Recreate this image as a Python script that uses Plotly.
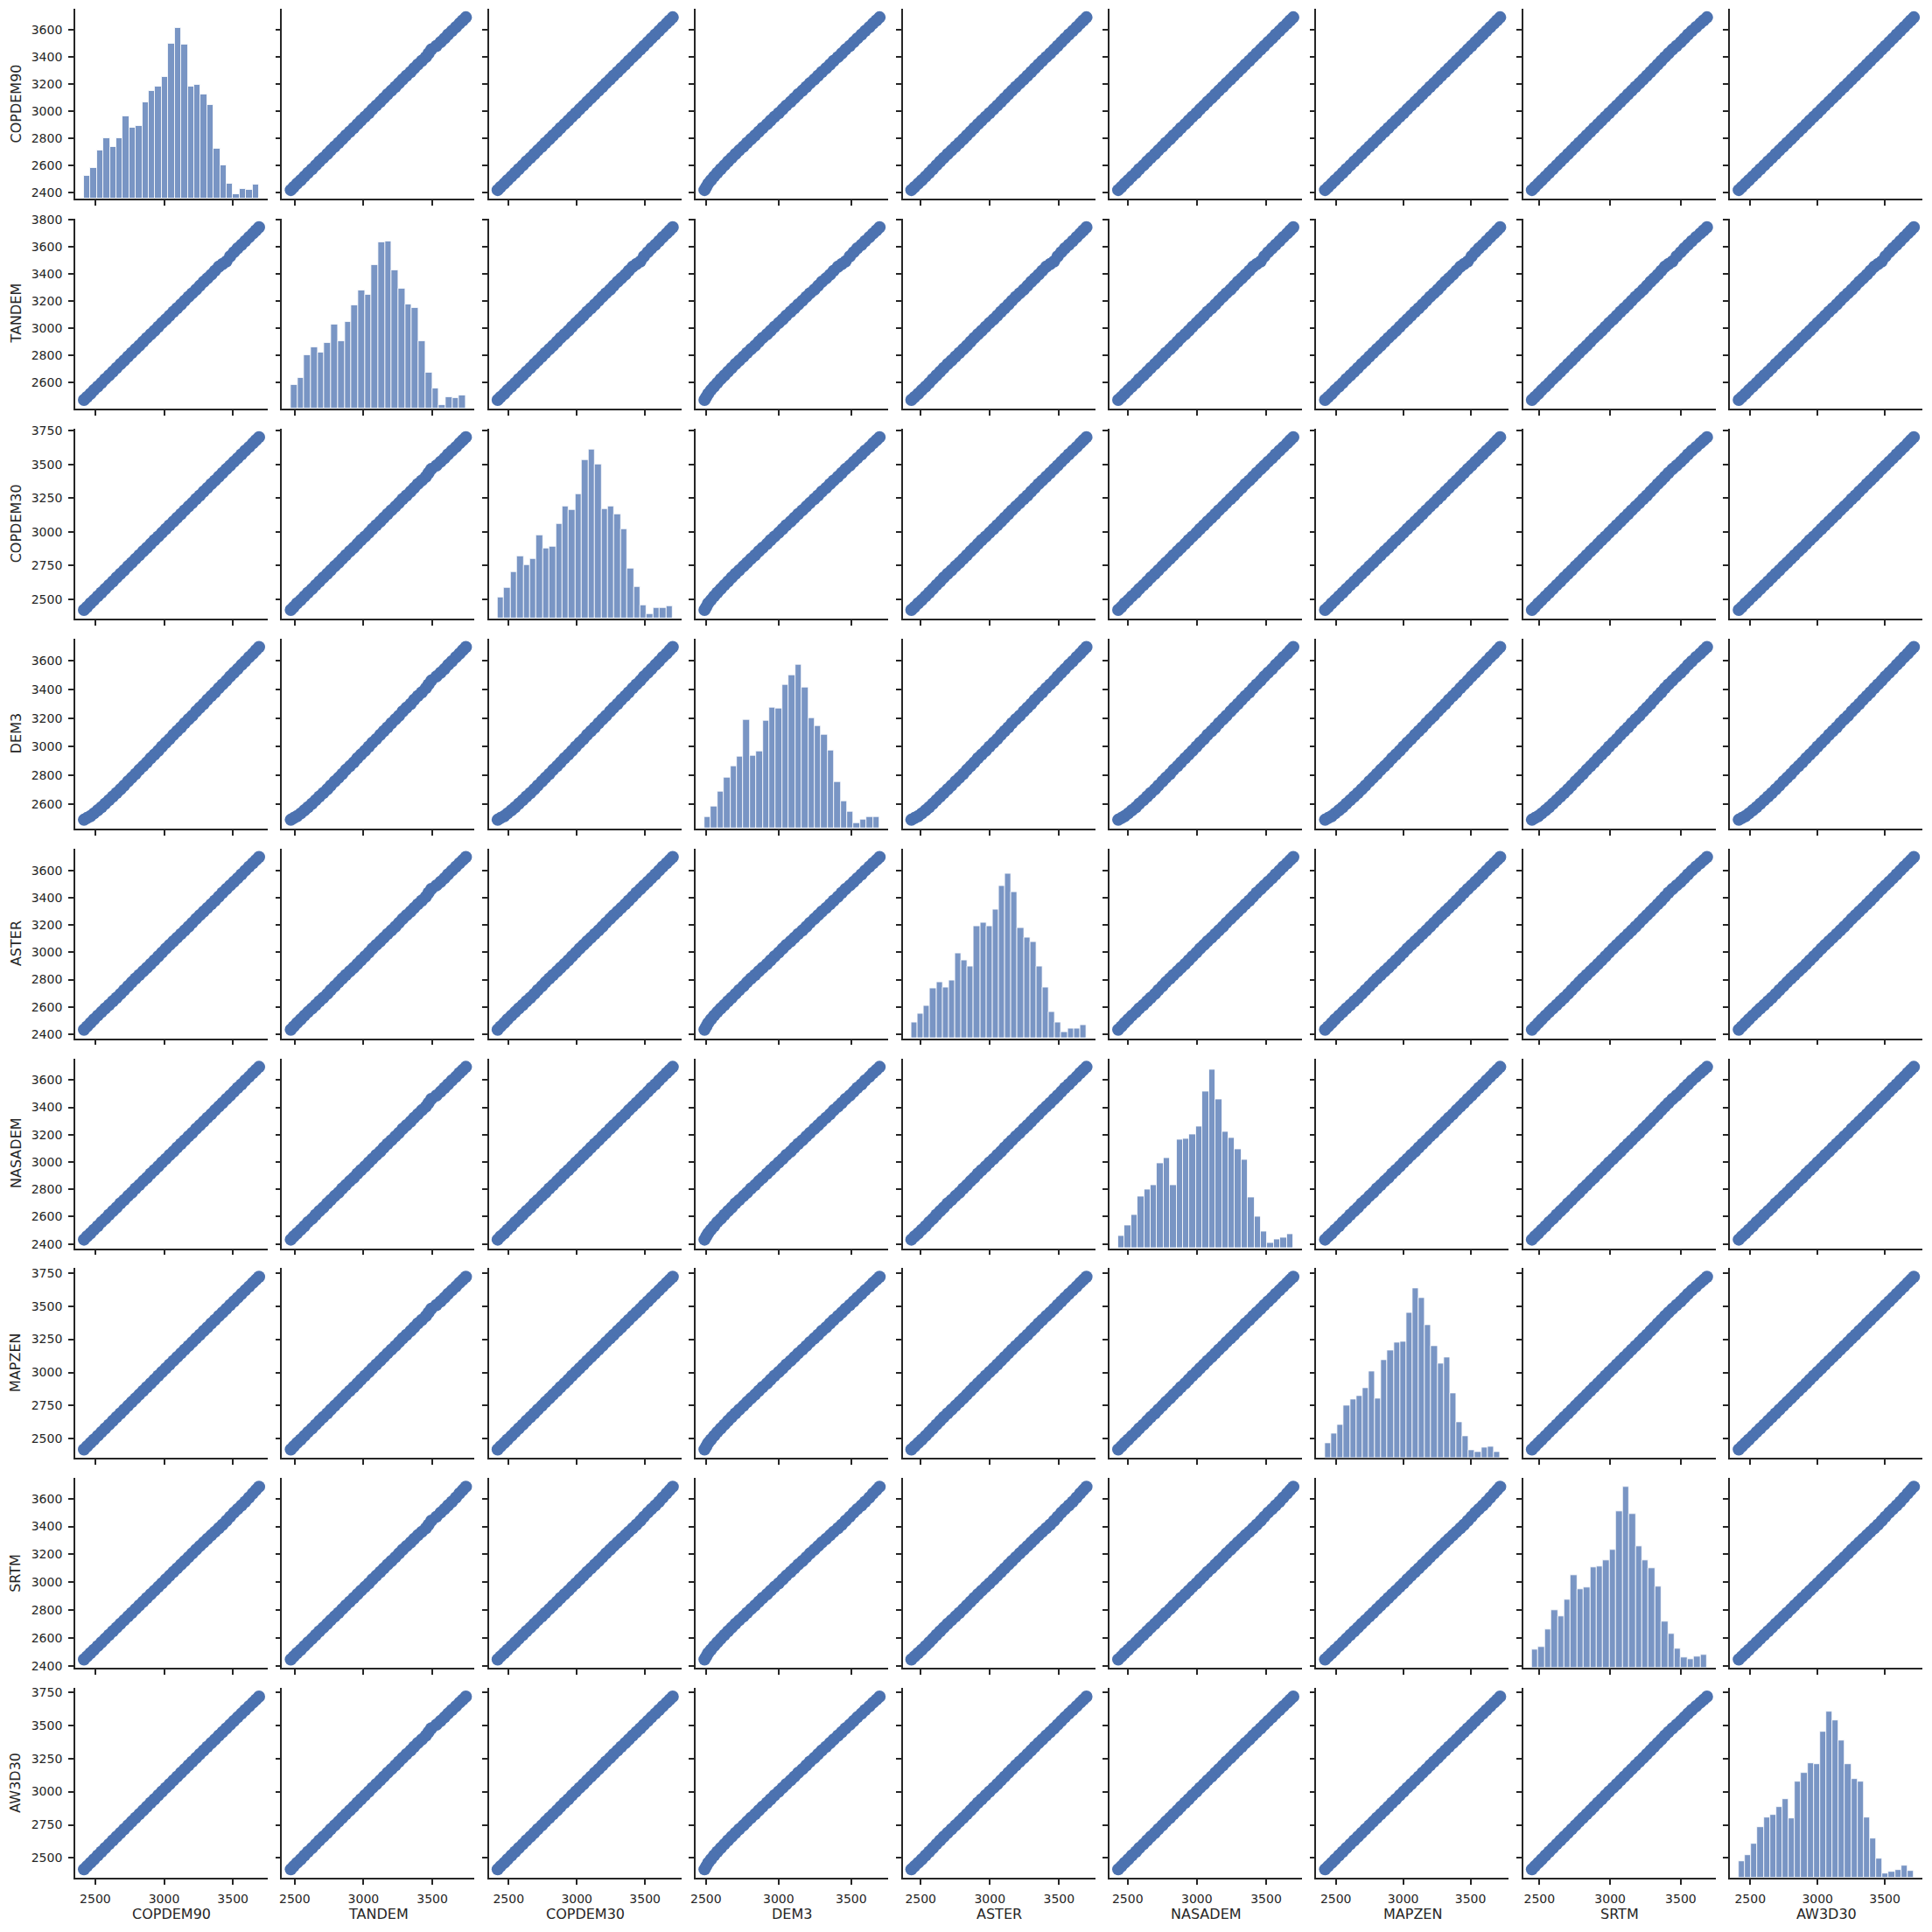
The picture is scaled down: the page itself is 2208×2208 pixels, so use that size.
import numpy as np
import plotly.graph_objects as go

# ---------------- data ----------------
names = ["COPDEM90", "TANDEM", "COPDEM30", "DEM3", "ASTER", "NASADEM", "MAPZEN", "SRTM", "AW3D30"]

copdem90 = [2418, 2440, 2465, 2490, 2518, 2545, 2572, 2600, 2628, 2655, 2683, 2710, 2738, 2765, 2793, 2820,
            2848, 2875, 2903, 2930, 2958, 2985, 3013, 3040, 3068, 3095, 3123, 3150, 3178, 3205, 3233, 3260,
            3288, 3315, 3343, 3370, 3398, 3425, 3453, 3480, 3508, 3535, 3563, 3590, 3618, 3645, 3668, 3690]
tandem = [2472, 2493, 2517, 2544, 2571, 2597, 2626, 2653, 2680, 2708, 2737, 2762, 2791, 2819, 2846, 2872,
          2901, 2929, 2956, 2982, 3011, 3039, 3065, 3093, 3122, 3148, 3175, 3203, 3232, 3258, 3285, 3313,
          3343, 3368, 3395, 3424, 3454, 3473, 3493, 3530, 3561, 3589, 3615, 3643, 3672, 3698, 3722, 3744]
copdem30 = [2420, 2441, 2468, 2492, 2521, 2548, 2575, 2604, 2631, 2660, 2688, 2714, 2744, 2770, 2799, 2826,
            2855, 2881, 2910, 2938, 2965, 2993, 3021, 3049, 3076, 3104, 3132, 3160, 3188, 3214, 3244, 3270,
            3299, 3326, 3355, 3381, 3410, 3437, 3466, 3492, 3521, 3547, 3576, 3603, 3630, 3658, 3681, 3703]
dem3 = [2490, 2502, 2515, 2534, 2556, 2578, 2602, 2627, 2652, 2677, 2703, 2729, 2758, 2783, 2810, 2838,
        2864, 2890, 2920, 2945, 2972, 3001, 3028, 3053, 3083, 3109, 3135, 3164, 3191, 3216, 3246, 3272,
        3298, 3327, 3354, 3379, 3409, 3435, 3461, 3490, 3517, 3542, 3571, 3596, 3625, 3650, 3674, 3695]
aster = [2433, 2456, 2482, 2508, 2536, 2562, 2588, 2614, 2641, 2667, 2695, 2723, 2752, 2780, 2808, 2834,
         2861, 2887, 2914, 2941, 2970, 2998, 3027, 3054, 3081, 3107, 3134, 3160, 3188, 3216, 3245, 3272,
         3299, 3325, 3352, 3379, 3408, 3436, 3464, 3490, 3517, 3543, 3571, 3599, 3627, 3653, 3676, 3698]
nasadem = [2432, 2455, 2478, 2504, 2531, 2560, 2584, 2614, 2641, 2667, 2697, 2722, 2751, 2776, 2806, 2831,
           2860, 2885, 2915, 2941, 2968, 2997, 3023, 3051, 3077, 3106, 3133, 3159, 3188, 3213, 3243, 3269,
           3296, 3324, 3350, 3379, 3406, 3432, 3461, 3487, 3515, 3543, 3569, 3597, 3624, 3652, 3674, 3696]
mapzen = [2420, 2443, 2469, 2494, 2523, 2551, 2578, 2607, 2636, 2664, 2692, 2720, 2749, 2777, 2805, 2833,
          2862, 2890, 2918, 2946, 2975, 3003, 3031, 3059, 3088, 3116, 3144, 3172, 3200, 3228, 3257, 3284,
          3313, 3340, 3369, 3396, 3425, 3452, 3480, 3508, 3536, 3563, 3592, 3619, 3647, 3675, 3698, 3720]
srtm = [2447, 2468, 2492, 2516, 2543, 2569, 2595, 2622, 2649, 2675, 2702, 2728, 2755, 2781, 2808, 2834,
        2861, 2887, 2914, 2940, 2967, 2993, 3021, 3047, 3074, 3100, 3127, 3153, 3180, 3207, 3234, 3260,
        3286, 3311, 3337, 3362, 3388, 3413, 3441, 3470, 3500, 3525, 3551, 3578, 3608, 3637, 3662, 3685]
aw3d30 = [2415, 2438, 2464, 2490, 2519, 2547, 2575, 2604, 2633, 2661, 2689, 2717, 2746, 2774, 2803, 2830,
          2859, 2887, 2916, 2943, 2972, 3000, 3029, 3056, 3085, 3113, 3142, 3169, 3198, 3226, 3254, 3282,
          3310, 3338, 3366, 3393, 3422, 3449, 3477, 3504, 3533, 3560, 3588, 3615, 3643, 3670, 3693, 3715]

columns = [copdem90, tandem, copdem30, dem3, aster, nasadem, mapzen, srtm, aw3d30]

# histogram bar heights (relative count units)
hist_copdem90 = [11.9, 16.2, 25.5, 32.0, 27.0, 32.0, 43.2, 37.1, 38.1, 50.7, 56.5, 59.0, 64.0, 81.7,
                 89.9, 80.9, 59.0, 59.7, 54.7, 49.3, 26.3, 17.3, 7.9, 2.5, 5.0, 4.7, 7.6]
hist_tandem = [12.5, 16.2, 28.2, 32.3, 29.5, 34.6, 44.3, 35.5, 45.7, 54.5, 62.3, 60.0, 75.7, 87.7,
               88.2, 72.9, 63.2, 54.9, 53.1, 35.5, 18.9, 10.6, 1.8, 6.0, 5.5, 6.9]
hist_copdem30 = [11.0, 16.1, 24.3, 32.6, 28.0, 31.2, 43.6, 36.8, 37.7, 49.6, 58.8, 57.0, 65.2, 83.2,
                 89.1, 81.3, 57.4, 58.8, 54.7, 46.9, 26.2, 16.5, 6.9, 2.3, 5.5, 5.5, 6.4]
hist_dem3 = [6.0, 11.7, 19.3, 26.7, 32.7, 37.7, 57.1, 38.2, 40.5, 56.6, 63.5, 63.0, 75.5, 80.5,
             86.0, 74.1, 58.0, 53.8, 49.2, 41.0, 24.4, 14.3, 8.7, 2.8, 4.6, 6.0, 6.0]
hist_aster = [8.2, 12.8, 16.9, 26.1, 29.3, 26.6, 30.2, 44.9, 41.2, 37.6, 59.1, 60.9, 59.1, 67.8,
              80.2, 86.6, 76.9, 58.2, 53.1, 50.8, 38.0, 26.6, 13.7, 8.2, 3.2, 5.0, 5.0, 6.9]
hist_nasadem = [6.4, 11.9, 17.4, 27.0, 30.7, 33.0, 44.9, 47.6, 33.0, 57.3, 57.7, 60.0, 64.1, 82.4,
                93.9, 78.3, 61.4, 58.2, 52.2, 46.3, 26.6, 16.5, 8.7, 2.7, 4.6, 5.5, 7.3]
hist_mapzen = [7.7, 12.7, 17.4, 27.5, 30.7, 32.6, 36.7, 45.5, 31.2, 51.5, 56.5, 60.7, 61.1, 76.3,
               89.2, 84.2, 69.9, 58.8, 49.6, 52.8, 33.9, 18.7, 11.4, 4.0, 3.1, 5.4, 5.8, 3.1]
hist_srtm = [9.5, 10.9, 20.1, 30.3, 27.0, 35.8, 48.7, 41.3, 42.2, 52.8, 53.3, 56.5, 62.1, 82.3,
             95.2, 81.0, 63.9, 56.5, 52.4, 42.7, 24.3, 17.8, 10.0, 5.4, 4.5, 5.8, 6.8]
hist_aw3d30 = [8.8, 12.1, 18.0, 26.7, 31.8, 33.2, 37.3, 41.5, 31.3, 50.7, 55.3, 60.4, 59.9, 76.7,
               87.6, 83.1, 72.5, 59.9, 52.1, 50.7, 31.8, 20.7, 10.1, 2.3, 3.2, 4.1, 6.5, 3.7]
hists = [hist_copdem90, hist_tandem, hist_copdem30, hist_dem3, hist_aster, hist_nasadem,
         hist_mapzen, hist_srtm, hist_aw3d30]

x_tick_vals = [2500, 3000, 3500]
y_ticks_200_lo = [2400, 2600, 2800, 3000, 3200, 3400, 3600]
y_ticks_200_hi = [2600, 2800, 3000, 3200, 3400, 3600, 3800]
y_ticks_dem3 = [2600, 2800, 3000, 3200, 3400, 3600]
y_ticks_250 = [2500, 2750, 3000, 3250, 3500, 3750]
y_ticks = [y_ticks_200_lo, y_ticks_200_hi, y_ticks_250, y_ticks_dem3, y_ticks_200_lo,
           y_ticks_200_lo, y_ticks_250, y_ticks_200_lo, y_ticks_250]

# ---------------- styling / layout ----------------
W = H = 2208
N = len(names)
COL_LEFT0, COL_STEP, COL_W = 86.0, 236.4, 220.0
ROW_TOP0, ROW_STEP, ROW_H = 10.0, 239.9, 217.0
BLUE = "#4c72b0"
INK = "#262626"
FONT = "DejaVu Sans"


def rng(vals):
    lo, hi = min(vals), max(vals)
    pad = 0.05 * (hi - lo)
    return [lo - pad, hi + pad]


ranges = [rng(v) for v in columns]
hist_top = max(max(h) for h in hists) * 1.05

fig = go.Figure()
layout = {}

axis_common = dict(
    showgrid=False, zeroline=False, showline=True, linecolor=INK, linewidth=1.7,
    ticks="outside", ticklen=6, tickwidth=1.6, tickcolor=INK,
    tickfont=dict(family=FONT, size=14, color=INK), automargin=False,
    ticklabelstandoff=4, fixedrange=True,
)


def domains(r, c):
    x0 = (COL_LEFT0 + COL_STEP * c) / W
    x1 = (COL_LEFT0 + COL_STEP * c + COL_W) / W
    top = ROW_TOP0 + ROW_STEP * r
    return [x0, x1], [1 - (top + ROW_H) / H, 1 - top / H]


for r in range(N):
    for c in range(N):
        k = r * N + c + 1
        xs = "" if k == 1 else str(k)
        xd, yd = domains(r, c)
        layout["xaxis" + xs] = dict(
            axis_common, domain=xd, anchor="y" + xs, range=ranges[c],
            tickvals=x_tick_vals, showticklabels=(r == N - 1),
        )
        layout["yaxis" + xs] = dict(
            axis_common, domain=yd, anchor="x" + xs, range=ranges[r],
            tickvals=y_ticks[r], showticklabels=(c == 0),
        )
        if r != c:
            fig.add_trace(go.Scatter(
                x=columns[c], y=columns[r], mode="markers", xaxis="x" + xs, yaxis="y" + xs,
                marker=dict(color=BLUE, size=14, line=dict(width=0)), hoverinfo="skip",
            ))
        else:
            # empty trace so the diagonal panel's own axes are drawn
            fig.add_trace(go.Scatter(x=[], y=[], mode="markers", xaxis="x" + xs, yaxis="y" + xs,
                                     hoverinfo="skip"))

# diagonal histograms on separate (hidden) count axes sharing the panel area
for d in range(N):
    k = d * N + d + 1
    xs = "" if k == 1 else str(k)
    oid = N * N + 1 + d
    xd, yd = domains(d, d)
    layout["yaxis" + str(oid)] = dict(
        domain=yd, anchor="x" + xs, range=[0, hist_top], visible=False,
        showgrid=False, zeroline=False, automargin=False, fixedrange=True,
    )
    counts = hists[d]
    lo, hi = min(columns[d]), max(columns[d])
    edges = np.linspace(lo, hi, len(counts) + 1)
    centers = (edges[:-1] + edges[1:]) / 2
    fig.add_trace(go.Bar(
        x=centers, y=counts, width=edges[1] - edges[0], xaxis="x" + xs, yaxis="y" + str(oid),
        marker=dict(color="rgba(76,114,176,0.75)", line=dict(color="rgba(255,255,255,0.8)", width=1)),
        hoverinfo="skip",
    ))

annotations = []
for i, name in enumerate(names):
    cx = (COL_LEFT0 + COL_STEP * i + COL_W / 2) / W
    annotations.append(dict(
        text=name, x=cx, y=1 - 2187 / H, xref="paper", yref="paper", showarrow=False,
        xanchor="center", yanchor="middle", font=dict(family=FONT, size=16, color=INK),
    ))
    cy = 1 - (ROW_TOP0 + ROW_STEP * i + ROW_H / 2) / H
    annotations.append(dict(
        text=name, x=18 / W, y=cy, xref="paper", yref="paper", showarrow=False, textangle=-90,
        xanchor="center", yanchor="middle", font=dict(family=FONT, size=16, color=INK),
    ))

fig.update_layout(
    template="none", width=W, height=H, margin=dict(l=0, r=0, t=0, b=0, pad=0),
    paper_bgcolor="white", plot_bgcolor="rgba(0,0,0,0)", showlegend=False, bargap=0,
    annotations=annotations, font=dict(family=FONT, color=INK), **layout,
)

fig.write_html("out.html", config={"displayModeBar": False},
               post_script="document.body.style.margin='0';")
